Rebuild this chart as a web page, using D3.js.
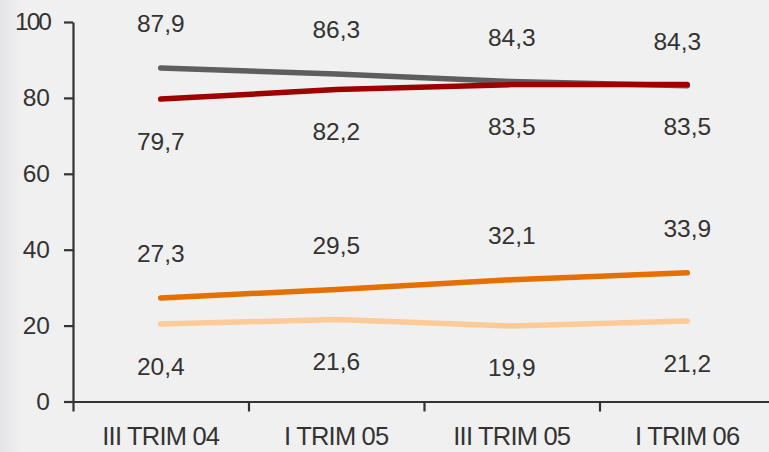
<!DOCTYPE html>
<html>
<head>
<meta charset="utf-8">
<script src="https://cdn.jsdelivr.net/npm/d3@7"></script>
<style>
  body { margin: 0; background: #f0f0f0; }
  text { font-family: "Liberation Sans", Arial, sans-serif; fill: #333; }
</style>
</head>
<body>
<div id="chart"></div>
<script>
const width = 769,
      height = 452;

// data
const categories = ['III TRIM 04', 'I TRIM 05', 'III TRIM 05', 'I TRIM 06'];
const yTicks = [0, 20, 40, 60, 80, 100];

const greyValues = [87.9, 86.3, 84.3, 83.2];
const greyLabels = ['87,9', '86,3', '84,3', '84,3'];
const redValues = [79.7, 82.2, 83.5, 83.5];
const redLabels = ['79,7', '82,2', '83,5', '83,5'];
const orangeValues = [27.3, 29.5, 32.1, 33.9];
const orangeLabels = ['27,3', '29,5', '32,1', '33,9'];
const peachValues = [20.4, 21.6, 19.9, 21.2];
const peachLabels = ['20,4', '21,6', '19,9', '21,2'];

const series = [
  { values: peachValues,  labels: peachLabels,  color: '#fdca98', above: false },
  { values: orangeValues, labels: orangeLabels, color: '#e37000', above: true },
  { values: greyValues,   labels: greyLabels,   color: '#5e5e5e', above: true },
  { values: redValues,    labels: redLabels,    color: '#9e0000', above: false }
];

const chart = d3.select('#chart')
                .append('svg')
                .attr('width', width)
                .attr('height', height);

const defs = chart.append('defs');
const grad = defs.append('linearGradient')
                 .attr('id', 'edge')
                 .attr('x1', 0).attr('x2', 1).attr('y1', 0).attr('y2', 0);
grad.append('stop').attr('offset', 0).attr('stop-color', '#e4e4e8');
grad.append('stop').attr('offset', 1).attr('stop-color', '#f0f0f0');

chart.append('rect')
     .attr('width', width)
     .attr('height', height)
     .attr('fill', '#f0f0f0');
chart.append('rect')
     .attr('width', 22)
     .attr('height', height)
     .attr('fill', 'url(#edge)');

const xScale = d3.scaleBand()
                 .domain(categories)
                 .range([73, 775]);

const edgeScale = d3.scaleLinear()
                    .domain([0, categories.length])
                    .range([73, 775]);

const yScale = d3.scaleLinear()
                 .domain([0, 100])
                 .range([401.5, 22]);

// y axis
const yAxis = d3.axisLeft(yScale)
                .tickValues(yTicks)
                .tickSize(9)
                .tickSizeOuter(0)
                .tickPadding(14);

const yAxisGroup = chart.append('g')
                        .attr('transform', 'translate(73, 0)')
                        .call(yAxis);

yAxisGroup.selectAll('text')
          .style('font-size', '24.5px')
          .attr('letter-spacing', function(d) { return d === 100 ? -2 : 0; })
          .attr('fill', '#333');

// x axis: ticks on band edges, labels in band centres
const xEdgeAxis = d3.axisBottom(edgeScale)
                    .tickValues(d3.range(categories.length + 1))
                    .tickSize(10)
                    .tickSizeOuter(0)
                    .tickFormat('');

chart.append('g')
     .attr('transform', 'translate(0, 401.5)')
     .call(xEdgeAxis);

const xAxis = d3.axisBottom(xScale)
                .tickSize(0)
                .tickPadding(25);

const xAxisGroup = chart.append('g')
                        .attr('transform', 'translate(0, 401.5)')
                        .call(xAxis);

xAxisGroup.select('.domain').remove();
xAxisGroup.selectAll('text')
          .style('font-size', '25.5px')
          .attr('letter-spacing', -0.8)
          .attr('fill', '#333');

chart.selectAll('.domain, .tick line')
     .attr('stroke', '#333')
     .attr('stroke-width', 2.2);

// lines
const line = d3.line()
               .x(function(d, i) { return xScale(categories[i]) + xScale.bandwidth() / 2; })
               .y(function(d) { return yScale(d); });

chart.selectAll('.series')
     .data(series)
     .enter()
     .append('path')
     .attr('class', 'series')
     .attr('d', function(s) { return line(s.values); })
     .attr('fill', 'none')
     .attr('stroke', function(s) { return s.color; })
     .attr('stroke-width', 5.5)
     .attr('stroke-linecap', 'round')
     .attr('stroke-linejoin', 'round');

// data labels
series.forEach(function(s) {
  chart.append('g')
       .selectAll('text')
       .data(s.values)
       .enter()
       .append('text')
       .attr('x', function(d, i) { return xScale(categories[i]) + xScale.bandwidth() / 2; })
       .attr('y', function(d) { return yScale(d) + (s.above ? -35.5 : 50.5); })
       // last grey label sits a little left in the original
       .attr('dx', function(d, i) { return (s.values === greyValues && i === 3) ? -10 : 0; })
       .attr('text-anchor', 'middle')
       .style('font-size', '24.5px')
       .text(function(d, i) { return s.labels[i]; });
});
</script>
</body>
</html>
